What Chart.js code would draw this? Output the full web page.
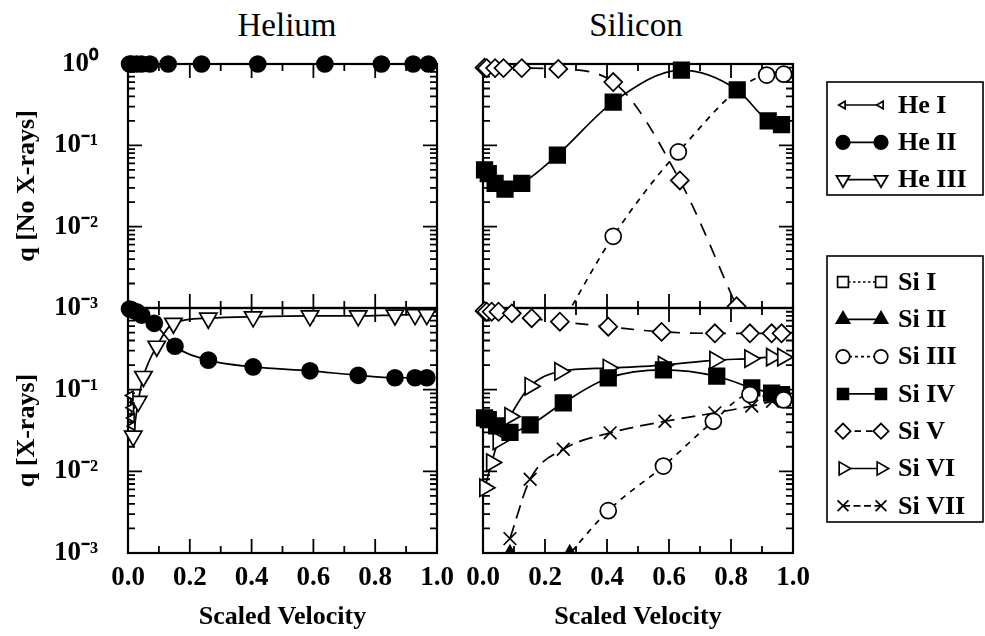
<!DOCTYPE html>
<html>
<head>
<meta charset="utf-8">
<script src="https://cdn.jsdelivr.net/npm/chart.js@4.4.1/dist/chart.umd.min.js"></script>
<style>
html, body { margin: 0; padding: 0; background: #fff; }
#wrap { position: relative; width: 985px; height: 636px; overflow: hidden; background: #fff; }
#wrap canvas { position: absolute; left: 0; top: 0; }
.ptitle { position: absolute; top: 9px; font-family: "Liberation Serif", serif; font-size: 33px; line-height: 33px; color: #000; transform: translateX(-50%); white-space: nowrap; }
</style>
</head>
<body>
<div id="wrap">
  <div class="ptitle" style="left:287px">Helium</div>
  <div class="ptitle" style="left:636px">Silicon</div>
  <canvas id="cTL" width="985" height="636"></canvas>
  <canvas id="cBL" width="985" height="636"></canvas>
  <canvas id="cTR" width="985" height="636"></canvas>
  <canvas id="cBR" width="985" height="636"></canvas>
</div>
<script>
// axis ticks
const xTicks = [0, 0.2, 0.4, 0.6, 0.8, 1.0];
const yDecades = [1, 0.1, 0.01, 0.001];
const yTickLabels = ['10\u2070', '10\u207B\u00B9', '10\u207B\u00B2', '10\u207B\u00B3'];

// Helium, no X-rays
const heIITopX = [0.005, 0.012, 0.028, 0.044, 0.071, 0.13, 0.238, 0.42, 0.637, 0.82, 0.923, 0.972];
const heIITopQ = [1, 1, 1, 1, 1, 1, 1, 1, 1, 1, 1, 1];

// Helium, X-rays
const heIBotX = [0.008, 0.010, 0.012, 0.014];
const heIBotQ = [0.085, 0.06, 0.045, 0.036];
const heIIBotX = [0.005, 0.012, 0.028, 0.044, 0.085, 0.152, 0.26, 0.405, 0.589, 0.745, 0.864, 0.929, 0.967];
const heIIBotQ = [0.97, 0.95, 0.9, 0.82, 0.65, 0.34, 0.23, 0.19, 0.17, 0.15, 0.14, 0.14, 0.14];
const heIIIBotX = [0.017, 0.033, 0.05, 0.093, 0.147, 0.26, 0.405, 0.589, 0.745, 0.864, 0.929, 0.967];
const heIIIBotQ = [0.027, 0.072, 0.145, 0.34, 0.65, 0.75, 0.78, 0.8, 0.8, 0.82, 0.83, 0.83];

// Silicon, no X-rays
const siIIITopX = [0.25, 0.42, 0.63, 0.915, 0.97];
const siIIITopQ = [0.0006, 0.0076, 0.083, 0.73, 0.75];
const siIVTopX = [0.005, 0.017, 0.039, 0.071, 0.125, 0.24, 0.42, 0.64, 0.82, 0.92, 0.963];
const siIVTopQ = [0.05, 0.045, 0.034, 0.029, 0.034, 0.076, 0.34, 0.84, 0.48, 0.2, 0.18];
const siVTopX = [0.005, 0.012, 0.039, 0.066, 0.125, 0.243, 0.42, 0.635, 0.818];
const siVTopQ = [0.9, 0.89, 0.89, 0.89, 0.89, 0.87, 0.6, 0.037, 0.00105];

// Silicon, X-rays
const siIIBotX = [0.087, 0.28];
const siIIBotQ = [0.00093, 0.00093];
const siIIIBotX = [0.26, 0.404, 0.582, 0.743, 0.861, 0.97];
const siIIIBotQ = [0.0008, 0.0033, 0.0116, 0.041, 0.087, 0.075];
const siIVBotX = [0.005, 0.017, 0.044, 0.087, 0.152, 0.259, 0.404, 0.582, 0.754, 0.867, 0.931, 0.963];
const siIVBotQ = [0.045, 0.043, 0.036, 0.03, 0.037, 0.069, 0.139, 0.175, 0.146, 0.105, 0.091, 0.087];
const siVBotX = [0.005, 0.012, 0.028, 0.05, 0.093, 0.157, 0.248, 0.404, 0.576, 0.748, 0.861, 0.931, 0.963];
const siVBotQ = [0.92, 0.9, 0.9, 0.9, 0.86, 0.75, 0.68, 0.59, 0.51, 0.49, 0.49, 0.49, 0.49];
const siVIBotX = [0.006, 0.028, 0.049, 0.087, 0.152, 0.248, 0.404, 0.582, 0.748, 0.861, 0.931, 0.967];
const siVIBotQ = [0.0063, 0.0128, 0.0236, 0.047, 0.11, 0.167, 0.184, 0.2, 0.23, 0.24, 0.25, 0.25];
const siVIIBotX = [0.087, 0.152, 0.259, 0.41, 0.587, 0.748, 0.867, 0.934, 0.973];
const siVIIBotQ = [0.0015, 0.008, 0.0186, 0.0296, 0.041, 0.052, 0.063, 0.072, 0.075];

const heLegend = ['He I', 'He II', 'He III'];
const siLegend = ['Si I', 'Si II', 'Si III', 'Si IV', 'Si V', 'Si VI', 'Si VII'];

const WHITE = '#fff', BLACK = '#000';
// marker / line styles per series
const STY = {
  'He I':   { pointStyle: 'triangle', pointRotation: -90, pointRadius: 5, pointBackgroundColor: WHITE, borderDash: [] },
  'He II':  { pointStyle: 'circle', pointRadius: 8, pointBackgroundColor: BLACK, borderDash: [] },
  'He III': { pointStyle: 'triangle', pointRotation: 180, pointRadius: 10, pointBackgroundColor: WHITE, borderDash: [] },
  'Si I':   { pointStyle: 'rect', pointRadius: 9, pointBackgroundColor: WHITE, borderDash: [5, 5] },
  'Si II':  { pointStyle: 'triangle', pointRadius: 10, pointBackgroundColor: BLACK, borderDash: [] },
  'Si III': { pointStyle: 'circle', pointRadius: 8, pointBackgroundColor: WHITE, borderDash: [6, 6] },
  'Si IV':  { pointStyle: 'rect', pointRadius: 11, pointBackgroundColor: BLACK, borderDash: [] },
  'Si V':   { pointStyle: 'rectRot', pointRadius: 9, pointBackgroundColor: WHITE, borderDash: [13, 10] },
  'Si VI':  { pointStyle: 'triangle', pointRotation: 90, pointRadius: 10, pointBackgroundColor: WHITE, borderDash: [] },
  'Si VII': { pointStyle: 'crossRot', pointRadius: 9, pointBackgroundColor: WHITE, borderDash: [14, 7] }
};

Chart.defaults.font.family = '"Liberation Serif", "Times New Roman", serif';
Chart.defaults.color = BLACK;

function series(label, xs, qs) {
  return Object.assign({
    label: label,
    data: xs.map((x, i) => ({ x: x, y: qs[i] })),
    borderColor: BLACK,
    borderWidth: 1.7,
    pointBorderColor: BLACK,
    pointBorderWidth: 1.7,
    cubicInterpolationMode: 'monotone',
    fill: false,
    clip: { left: 14, top: 14, right: 14, bottom: 0 }
  }, STY[label]);
}

// frame with inward ticks on all four sides
const framePlugin = {
  id: 'frame',
  beforeDatasetsDraw(chart) {
    const { ctx, chartArea: a } = chart;
    const xs = chart.scales.x, ys = chart.scales.y;
    ctx.save();
    ctx.strokeStyle = BLACK;
    ctx.lineWidth = 1.8;
    ctx.beginPath();
    for (let k = 1; k < 10; k++) {
      const px = xs.getPixelForValue(k / 10);
      const len = k % 2 === 0 ? 14 : 7;
      ctx.moveTo(px, a.bottom); ctx.lineTo(px, a.bottom - len);
      ctx.moveTo(px, a.top); ctx.lineTo(px, a.top + len);
    }
    for (let e = -3; e < 0; e++) {
      for (let m = 1; m < 10; m++) {
        const v = m * Math.pow(10, e);
        if (e === -3 && m === 1) continue;
        const py = ys.getPixelForValue(v);
        const len = m === 1 ? 14 : 7;
        ctx.moveTo(a.left, py); ctx.lineTo(a.left + len, py);
        ctx.moveTo(a.right, py); ctx.lineTo(a.right - len, py);
      }
    }
    ctx.stroke();
    ctx.lineWidth = 2.2;
    ctx.strokeRect(a.left, a.top, a.right - a.left, a.bottom - a.top);
    ctx.restore();
  }
};

// boxed legends at the right
const legendPlugin = {
  id: 'boxLegend',
  afterDraw(chart) {
    const ctx = chart.ctx;
    const boxes = [
      { x: 827, y: 82, w: 156, h: 113, rows: heLegend, first: 105 },
      { x: 827, y: 256, w: 156, h: 266, rows: siLegend, first: 282 }
    ];
    ctx.save();
    boxes.forEach(b => {
      ctx.lineWidth = 1.6;
      ctx.strokeStyle = BLACK;
      ctx.setLineDash([]);
      ctx.strokeRect(b.x, b.y, b.w, b.h);
      b.rows.forEach((lab, i) => {
        const st = STY[lab];
        const y = b.first + i * 37.3;
        const x1 = 843, x2 = 881;
        ctx.setLineDash(st.borderDash.length ? [st.borderDash[0] / 2, st.borderDash[1] / 2] : []);
        ctx.lineWidth = 1.7;
        ctx.beginPath(); ctx.moveTo(x1, y); ctx.lineTo(x2, y); ctx.stroke();
        ctx.setLineDash([]);
        const opts = { pointStyle: st.pointStyle, rotation: st.pointRotation || 0,
          radius: Math.min(st.pointRadius, 9) * 0.85, borderWidth: 1.7 };
        [x1, x2].forEach(px => {
          ctx.fillStyle = st.pointBackgroundColor;
          ctx.strokeStyle = BLACK;
          Chart.helpers.drawPoint(ctx, opts, px, y);
        });
        ctx.fillStyle = BLACK;
        ctx.font = 'bold 26px "Liberation Serif", serif';
        ctx.textBaseline = 'middle';
        ctx.textAlign = 'left';
        ctx.fillText(lab, 898, y + 1);
      });
    });
    ctx.restore();
  }
};

function yLabel(v) {
  const i = yDecades.findIndex(d => Math.abs(v - d) < d * 1e-6);
  return i < 0 ? '' : yTickLabels[i];
}

function makePanel(id, datasets, cfg) {
  return new Chart(document.getElementById(id), {
    type: 'line',
    data: { datasets: datasets },
    options: {
      responsive: false,
      animation: false,
      events: [],
      layout: { padding: cfg.padding },
      plugins: { legend: { display: false }, tooltip: { enabled: false } },
      scales: {
        x: {
          type: 'linear', min: 0, max: 1, display: cfg.showX,
          afterBuildTicks: s => { s.ticks = xTicks.map(v => ({ value: v })); },
          afterFit: s => { s.height = cfg.showX ? 83 : 0; },
          grid: { display: false, drawTicks: false },
          border: { display: false },
          ticks: { padding: 9, autoSkip: false, maxRotation: 0, color: BLACK,
            font: { size: 27, weight: 'bold' }, callback: v => Number(v).toFixed(1) },
          title: { display: true, text: 'Scaled Velocity', color: BLACK,
            font: { size: 26, weight: 'bold' }, padding: { top: 0, bottom: 3 } }
        },
        y: {
          type: 'logarithmic', min: 0.001, max: 1, display: cfg.showY,
          afterBuildTicks: s => { s.ticks = yDecades.map(v => ({ value: v })); },
          afterFit: s => { s.width = cfg.showY ? 120 : 0; },
          grid: { display: false, drawTicks: false },
          border: { display: false },
          ticks: { padding: 30, autoSkip: false, color: BLACK,
            font: { size: 27, weight: 'bold' },
            callback: v => (cfg.hideTop && v === 1) ? '' : yLabel(v) },
          title: { display: true, text: cfg.yTitle || '', color: BLACK,
            font: { size: 26, weight: 'bold' }, padding: { top: 4, bottom: 0 } }
        }
      }
    },
    plugins: cfg.legend ? [framePlugin, legendPlugin] : [framePlugin]
  });
}

makePanel('cTL', [
  series('He II', heIITopX, heIITopQ)
], { padding: { left: 8, top: 64, right: 548, bottom: 328 }, showX: false, showY: true, yTitle: 'q [No X-rays]' });

makePanel('cBL', [
  series('He I', heIBotX, heIBotQ),
  series('He III', heIIIBotX, heIIIBotQ),
  series('He II', heIIBotX, heIIBotQ)
], { padding: { left: 8, top: 308, right: 548, bottom: 0 }, showX: true, showY: true, hideTop: true, yTitle: 'q [X-rays]' });

makePanel('cTR', [
  series('Si V', siVTopX, siVTopQ),
  series('Si III', siIIITopX, siIIITopQ),
  series('Si IV', siIVTopX, siIVTopQ)
], { padding: { left: 483, top: 64, right: 192, bottom: 328 }, showX: false, showY: false });

makePanel('cBR', [
  series('Si II', siIIBotX, siIIBotQ),
  series('Si III', siIIIBotX, siIIIBotQ),
  series('Si VII', siVIIBotX, siVIIBotQ),
  series('Si V', siVBotX, siVBotQ),
  series('Si IV', siIVBotX, siIVBotQ),
  series('Si VI', siVIBotX, siVIBotQ)
], { padding: { left: 483, top: 308, right: 192, bottom: 0 }, showX: true, showY: false, legend: true });
</script>
</body>
</html>
